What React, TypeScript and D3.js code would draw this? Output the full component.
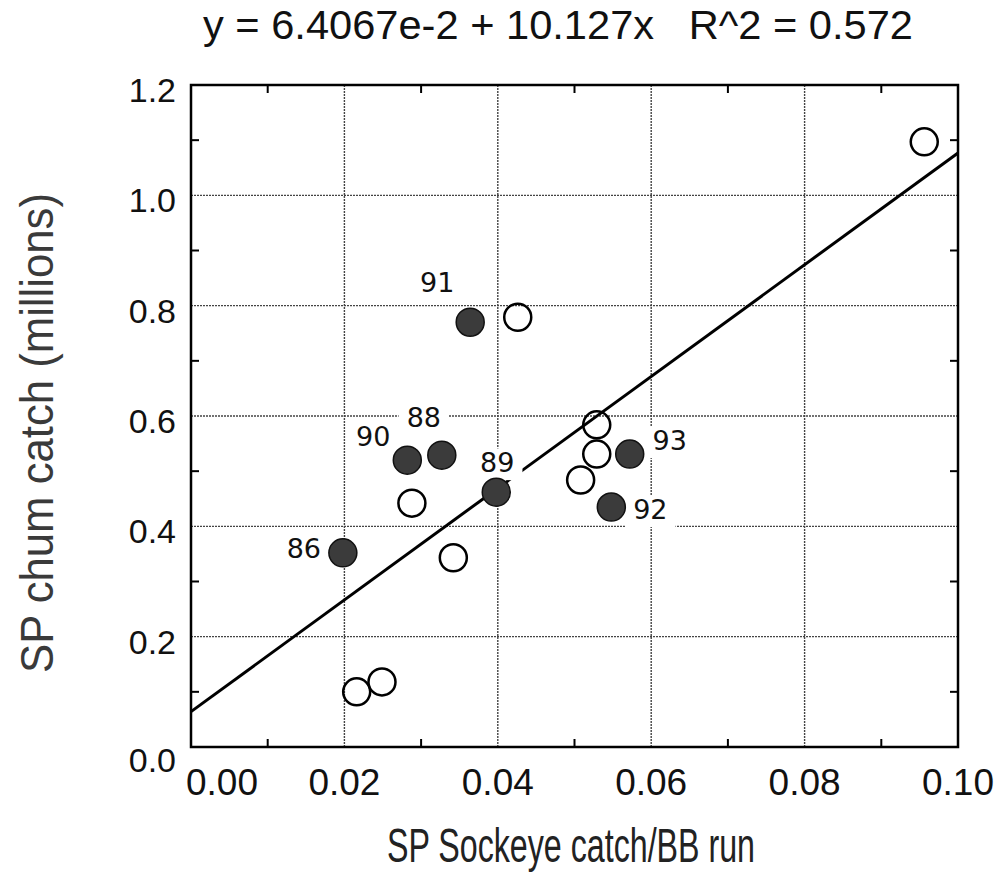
import React, { useRef, useEffect } from 'react';
import * as d3 from 'd3';

// filled points = labelled years
const filledYears = ['86', '88', '89', '90', '91', '92', '93'];
const filledX = [0.0198, 0.0327, 0.0398, 0.0282, 0.0364, 0.0548, 0.0572];
const filledY = [0.352, 0.529, 0.462, 0.520, 0.770, 0.435, 0.531];

// open points (unlabelled)
const openX = [0.0426, 0.0956, 0.0529, 0.0529, 0.0508, 0.0288, 0.0342, 0.0216, 0.0249];
const openY = [0.779, 1.097, 0.584, 0.531, 0.484, 0.442, 0.343, 0.100, 0.118];

const xTicks = [0, 0.02, 0.04, 0.06, 0.08, 0.1];
const xTickLabels = ['0.00', '0.02', '0.04', '0.06', '0.08', '0.10'];
const yTicks = [0, 0.2, 0.4, 0.6, 0.8, 1.0, 1.2];
const yTickLabels = ['0.0', '0.2', '0.4', '0.6', '0.8', '1.0', '1.2'];
const xMinor = [0.01, 0.03, 0.05, 0.07, 0.09];
const yMinor = [0.1, 0.3, 0.5, 0.7, 0.9, 1.1];

const fitIntercept = 6.4067e-2;
const fitSlope = 10.127;

const titleText = 'y = 6.4067e-2 + 10.127x   R^2 = 0.572';
const xTitle = 'SP Sockeye catch/BB run';
const yTitle = 'SP chum catch (millions)';

// label placement relative to its point (px): [dx, dy of baseline]
const labelOffsets: Record<string, [number, number]> = {
  '86': [-39, 5],
  '88': [-18, -28],
  '89': [1, -20],
  '90': [-34, -14],
  '91': [-33, -30],
  '92': [39, 12],
  '93': [40, -4],
};

const W = 1005;
const H = 896;

const App = () => {
  const svgRef = useRef<SVGSVGElement>(null);

  useEffect(() => {
    const svg = d3.select(svgRef.current);
    svg.selectAll('*').remove();

    const left = 191, right = 958, top = 85, bottom = 747;
    const x = d3.scaleLinear().domain([0, 0.1]).range([left, right]);
    const y = d3.scaleLinear().domain([0, 1.2]).range([bottom, top]);

    svg.append('rect').attr('width', W).attr('height', H).attr('fill', 'white');

    // gridlines
    const grid = svg.append('g')
      .attr('stroke', '#444')
      .attr('stroke-width', 1.4)
      .attr('stroke-dasharray', '2,1');
    grid.selectAll('line.v')
      .data(xTicks.slice(1, -1))
      .join('line')
      .attr('x1', d => x(d)).attr('x2', d => x(d))
      .attr('y1', top).attr('y2', bottom);
    grid.selectAll('line.h')
      .data(yTicks.slice(1, -1))
      .join('line')
      .attr('class', 'h')
      .attr('x1', left).attr('x2', right)
      .attr('y1', d => y(d)).attr('y2', d => y(d));

    // regression line
    const line = d3.line<number>().x(d => x(d)).y(d => y(fitIntercept + fitSlope * d));
    svg.append('path')
      .datum([0, 0.1])
      .attr('d', line)
      .attr('fill', 'none')
      .attr('stroke', '#000')
      .attr('stroke-width', 3);

    // label backgrounds (mask grid + line like the original)
    const labFont = 27;
    const labels = svg.append('g');
    filledYears.forEach((yr, i) => {
      const [dx, dy] = labelOffsets[yr];
      const cx = x(filledX[i]) + dx;
      const by = y(filledY[i]) + dy;
      const tw = yr.length * 0.636 * labFont;
      labels.append('rect')
        .attr('x', cx - tw / 2 - 8)
        .attr('y', by - 0.73 * labFont - 4)
        .attr('width', tw + 16)
        .attr('height', 0.73 * labFont + 12)
        .attr('fill', 'white');
      labels.append('text')
        .attr('x', cx)
        .attr('y', by)
        .attr('text-anchor', 'middle')
        .attr('font-family', '"DejaVu Sans", sans-serif')
        .attr('font-size', labFont)
        .attr('fill', '#111')
        .text(yr);
    });

    // points
    svg.append('g')
      .selectAll('circle')
      .data(openX.map((v, i) => [v, openY[i]]))
      .join('circle')
      .attr('cx', d => x(d[0]))
      .attr('cy', d => y(d[1]))
      .attr('r', 13.5)
      .attr('fill', 'none')
      .attr('stroke', '#000')
      .attr('stroke-width', 2.5);

    svg.append('g')
      .selectAll('circle')
      .data(filledX.map((v, i) => [v, filledY[i]]))
      .join('circle')
      .attr('cx', d => x(d[0]))
      .attr('cy', d => y(d[1]))
      .attr('r', 14)
      .attr('fill', '#3b3b3b')
      .attr('stroke', '#111')
      .attr('stroke-width', 1.5);

    // minor ticks, all four sides, pointing in
    const tk = 8;
    const ticks = svg.append('g').attr('stroke', '#000').attr('stroke-width', 2);
    xMinor.forEach(v => {
      ticks.append('line').attr('x1', x(v)).attr('x2', x(v)).attr('y1', bottom).attr('y2', bottom - tk);
      ticks.append('line').attr('x1', x(v)).attr('x2', x(v)).attr('y1', top).attr('y2', top + tk);
    });
    yMinor.forEach(v => {
      ticks.append('line').attr('x1', left).attr('x2', left + tk).attr('y1', y(v)).attr('y2', y(v));
      ticks.append('line').attr('x1', right).attr('x2', right - tk).attr('y1', y(v)).attr('y2', y(v));
    });

    // frame
    svg.append('rect')
      .attr('x', left).attr('y', top)
      .attr('width', right - left).attr('height', bottom - top)
      .attr('fill', 'none')
      .attr('stroke', '#000')
      .attr('stroke-width', 2.5);

    // tick labels
    const tickFont = '"Liberation Sans", Arial, sans-serif';
    svg.append('g')
      .selectAll('text')
      .data(xTicks)
      .join('text')
      .attr('x', (d, i) => x(d) + (i === 0 ? 31 : 0))
      .attr('y', 795)
      .attr('text-anchor', 'middle')
      .attr('font-family', tickFont)
      .attr('font-size', 37)
      .attr('fill', '#111')
      .text((d, i) => xTickLabels[i]);

    svg.append('g')
      .selectAll('text')
      .data(yTicks)
      .join('text')
      .attr('x', 176)
      .attr('y', (d, i) => y(d) + 17 + (i === 0 ? 8 : 0))
      .attr('text-anchor', 'end')
      .attr('font-family', tickFont)
      .attr('font-size', 34)
      .attr('fill', '#111')
      .text((d, i) => yTickLabels[i]);

    // titles
    const narrow = '"Liberation Sans Narrow", "Liberation Sans", Arial, sans-serif';
    svg.append('text')
      .attr('x', 203)
      .attr('y', 39)
      .attr('font-family', narrow)
      .attr('font-size', 40)
      .attr('textLength', 710)
      .attr('lengthAdjust', 'spacingAndGlyphs')
      .style('white-space', 'pre')
      .attr('fill', '#111')
      .text(titleText);

    svg.append('text')
      .attr('x', 387)
      .attr('y', 862)
      .attr('font-family', narrow)
      .attr('font-size', 48)
      .attr('textLength', 368)
      .attr('lengthAdjust', 'spacingAndGlyphs')
      .attr('fill', '#222')
      .text(xTitle);

    svg.append('text')
      .attr('transform', 'translate(53,673) rotate(-90)')
      .attr('font-family', narrow)
      .attr('font-size', 46)
      .attr('textLength', 480)
      .attr('lengthAdjust', 'spacingAndGlyphs')
      .attr('fill', '#3a3a3a')
      .text(yTitle);
  }, []);

  return (
    <svg
      ref={svgRef}
      width={W}
      height={H}
      style={{ position: 'absolute', left: 0, top: 0 }}
    />
  );
};

export default App;
